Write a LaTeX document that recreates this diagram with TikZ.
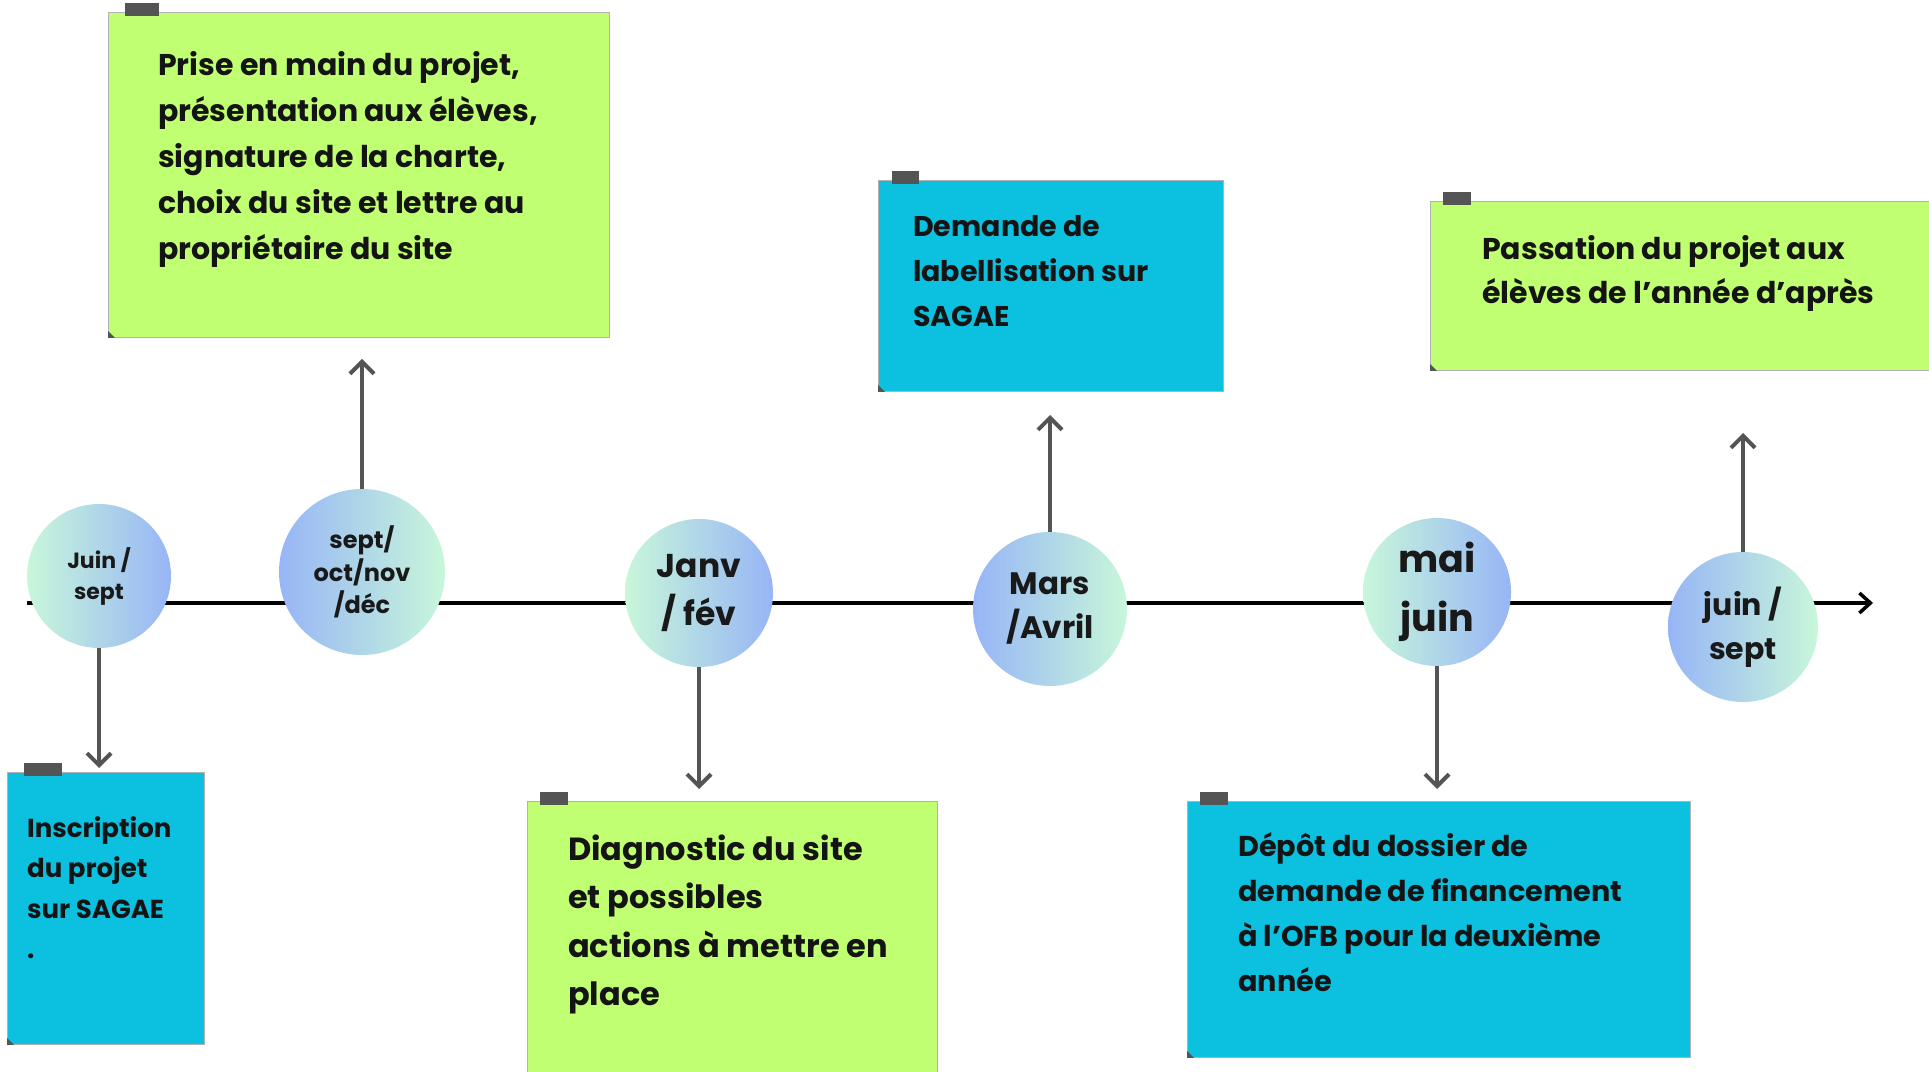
\documentclass[tikz,border=0pt]{standalone}
\usepackage{fontspec}
\setmainfont{Poppins}
\usetikzlibrary{arrows.meta}
\pgfdeclarelayer{edgelayer}
\pgfdeclarelayer{nodelayer}
\pgfsetlayers{edgelayer,nodelayer,main}
\definecolor{notegreen}{HTML}{C1FF72}
\definecolor{noteblue}{HTML}{0CC0DF}
\definecolor{mint}{HTML}{C8F7DA}
\definecolor{periw}{HTML}{97B5F6}
\definecolor{tapegray}{HTML}{545454}
\tikzset{
    month/.style = {circle, inner sep=0pt, align=center, text=black!90},
    note/.style = {rectangle, inner sep=0pt, anchor=north west, draw=black!30, line width=0.8pt},
    notetext/.style = {inner sep=0pt, anchor=base west, align=left, text=black!92},
    stem/.style = {draw=tapegray, line width=4pt, -{Straight Barb[length=12pt, width=24pt]}}
}

\begin{document}
\begin{tikzpicture}[x=1pt, y=1pt]
    \useasboundingbox (0, 0) rectangle (1929, 1071);
    \begin{pgfonlayer}{nodelayer}
        % sticky notes
        \node [note, fill=notegreen, minimum width=501, minimum height=325] (b1) at (108, 1059) {};
        \node [note, fill=noteblue, minimum width=197, minimum height=272] (b2) at (7, 299) {};
        \node [note, fill=noteblue, minimum width=345, minimum height=211] (b3) at (878, 891) {};
        \node [note, fill=notegreen, minimum width=410, minimum height=300] (b4) at (527, 270) {};
        \node [note, fill=noteblue, minimum width=503, minimum height=256] (b5) at (1187, 270) {};
        \node [note, fill=notegreen, minimum width=520, minimum height=169] (b6) at (1430, 870) {};
        % months
        \node [month, minimum size=144, left color=mint, right color=periw, font=\fontsize{22}{31}\selectfont\bfseries] (c1) at (99, 495) {Juin /\\sept};
        \node [month, minimum size=166, left color=periw, right color=mint, font=\fontsize{24}{32.5}\selectfont\bfseries] (c2) at (362, 499) {sept/\\oct/nov\\/déc};
        \node [month, minimum size=148, left color=mint, right color=periw, font=\fontsize{33}{48}\selectfont\bfseries] (c3) at (699, 478) {Janv\\/ fév};
        \node [month, minimum size=154, left color=periw, right color=mint, font=\fontsize{31}{44}\selectfont\bfseries] (c4) at (1050, 462) {Mars\\/Avril};
        \node [month, minimum size=148, left color=mint, right color=periw, font=\fontsize{38}{59}\selectfont\bfseries] (c5) at (1437, 479) {mai\\juin};
        \node [month, minimum size=150, left color=periw, right color=mint, font=\fontsize{30}{44}\selectfont\bfseries] (c6) at (1743, 444) {juin /\\sept};
    \end{pgfonlayer}
    \begin{pgfonlayer}{edgelayer}
        \coordinate (s) at (27, 468);
        \coordinate (e) at (1873, 468);
        \draw [line width=3.5pt, -{Straight Barb[length=11pt, width=20pt]}] (s) to (e);
    \end{pgfonlayer}
    % tape and folded corners
    \foreach \b/\dx/\w in {b1/17/34, b2/17/38, b3/14/27, b4/13/28, b5/13/28, b6/13/28} {
        \fill [tapegray] ([shift={(\dx, -4)}]\b.north west) rectangle ++(\w, 13);
        \fill [tapegray] (\b.south west) -- ++(7, 0) -- ++(-7, 7) -- cycle;
    }
    % texts (anchored at the baseline of their last line)
    \node [notetext, font=\fontsize{30}{46}\selectfont\bfseries] (t1) at (158, 811) {Prise en main du projet,\\présentation aux élèves,\\signature de la charte,\\choix du site et lettre au\\propriétaire du site};
    \node [notetext, font=\fontsize{26}{40.5}\selectfont\bfseries] (t2) at (27, 112.5) {Inscription\\du projet\\sur SAGAE\\.};
    \node [notetext, font=\fontsize{28.5}{45}\selectfont\bfseries] (t3) at (913, 744) {Demande de\\labellisation sur\\SAGAE};
    \node [notetext, font=\fontsize{32}{48.5}\selectfont\bfseries] (t4) at (568, 65.5) {Diagnostic du site\\et possibles\\actions à mettre en\\place};
    \node [notetext, font=\fontsize{28.7}{44.7}\selectfont\bfseries] (t5) at (1238, 80) {Dépôt du dossier de\\demande de financement\\à l’OFB pour la deuxième\\année};
    \node [notetext, font=\fontsize{30}{43.5}\selectfont\bfseries] (t6) at (1482, 767.5) {Passation du projet aux\\élèves de l’année d’après};
    % arrows from the months
    \coordinate (a1) at (99, 303);
    \coordinate (a2) at (362, 712);
    \coordinate (a3) at (699, 282);
    \coordinate (a4) at (1050, 656);
    \coordinate (a5) at (1437, 282);
    \coordinate (a6) at (1743, 638);
    \draw [stem] (c1.south) to (a1);
    \draw [stem] (c2.north) to (a2);
    \draw [stem] (c3.south) to (a3);
    \draw [stem] (c4.north) to (a4);
    \draw [stem] (c5.south) to (a5);
    \draw [stem] (c6.north) to (a6);
\end{tikzpicture}
\end{document}
